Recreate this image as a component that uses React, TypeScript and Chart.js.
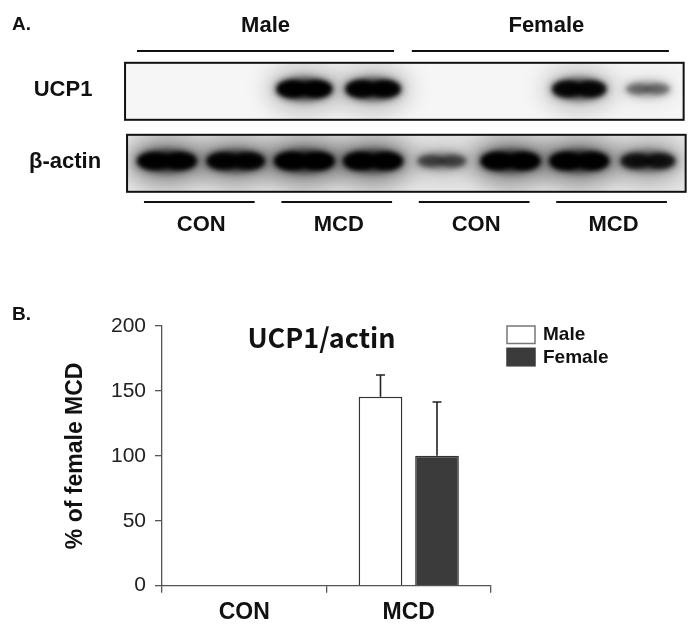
import React, { useEffect, useRef } from "react";
import { Chart, registerables } from "chart.js";
Chart.register(...registerables);

// ---------- Panel A: western blot ----------
const lanes = ["1", "2", "3", "4", "5", "6", "7", "8"];
const sexGroups = ["Male", "Female"];
const treatmentGroups = ["CON", "MCD", "CON", "MCD"];
const blotRows = ["UCP1", "β-actin"];
const ucp1Intensity = [0.0, 0.0, 0.95, 0.92, 0.0, 0.0, 0.85, 0.3];
const actinIntensity = [0.95, 0.9, 1.0, 0.97, 0.42, 0.97, 0.97, 0.72];

// ---------- Panel B: bar chart ----------
const categories = ["CON", "MCD"];
const maleValues = [0, 145.5];
const femaleValues = [0, 100];
const maleErrors = [0, 16.8];
const femaleErrors = [0, 41.5];
const yTicks = [0, 50, 100, 150, 200];
const chartTitle = "UCP1/actin";
const yAxisTitle = "% of female MCD";

const FONT = '"Liberation Sans", Arial, sans-serif';
const TITLE_FONT = '"Noto Sans CJK KR", "Noto Sans", sans-serif';

function ellipse(ctx: CanvasRenderingContext2D, x: number, y: number, rx: number, ry: number) {
  ctx.beginPath();
  ctx.ellipse(x, y, Math.max(rx, 0.1), Math.max(ry, 0.1), 0, 0, Math.PI * 2);
  ctx.fill();
}

function drawBand(ctx: CanvasRenderingContext2D, x: number, y: number, I: number, row: number) {
  if (I < 0.05) return;
  const w = (row === 0 ? 40 : 42) + (row === 0 ? 18 : 20) * I;
  const h = 9 + 11 * I;
  ctx.save();
  ctx.filter = "blur(11px)";
  ctx.fillStyle = `rgba(0,0,0,${(row === 0 ? 0.22 : 0.4) * I})`;
  ellipse(ctx, x, y, w * 0.66, h * 1.3);
  ctx.filter = "blur(4px)";
  ctx.fillStyle = `rgba(8,8,8,${Math.min(1, 0.2 + 0.85 * I)})`;
  ellipse(ctx, x, y, w / 2, h / 2 + 1);
  ctx.filter = "blur(2px)";
  ctx.fillStyle = `rgba(0,0,0,${Math.min(1, I)})`;
  ellipse(ctx, x - w * 0.22, y, w * 0.26, h * 0.44);
  ellipse(ctx, x + w * 0.22, y, w * 0.26, h * 0.44);
  ctx.restore();
}

const blotPlugin = {
  id: "blotPlugin",
  afterDatasetsDraw(chart: any) {
    const ctx: CanvasRenderingContext2D = chart.ctx;
    const xs = chart.scales.x;
    const ys = chart.scales.y;
    const lx = (v: number) => xs.getPixelForValue(v);
    const ly = (v: number) => ys.getPixelForValue(v);
    const unit = lx(2) - lx(1);
    const intensities = [ucp1Intensity, actinIntensity];
    const bgs = ["#f6f6f6", "#e9e9e9"];

    blotRows.forEach((label, r) => {
      const cy = ly(r + 1) + 2.3;
      const top = cy - 28.5;
      const bottom = cy + 28.5;
      const left = lx(1) - 0.61 * unit + r * 2;
      const right = lx(lanes.length) + 0.52 * unit + r * 2;
      ctx.save();
      ctx.fillStyle = bgs[r];
      ctx.fillRect(left, top, right - left, bottom - top);
      ctx.beginPath();
      ctx.rect(left, top, right - left, bottom - top);
      ctx.clip();
      const meta = chart.getDatasetMeta(r);
      meta.data.forEach((pt: any, i: number) => {
        drawBand(ctx, pt.x, pt.y, intensities[r][i], r);
      });
      ctx.restore();
      ctx.save();
      ctx.strokeStyle = "#111";
      ctx.lineWidth = 2;
      ctx.strokeRect(left, top, right - left, bottom - top);
      ctx.fillStyle = "#111";
      ctx.font = `bold 22px ${FONT}`;
      ctx.textAlign = "center";
      ctx.textBaseline = "middle";
      ctx.fillText(label, left - 62, ly(r + 1) + 1);
      ctx.restore();
    });

    ctx.save();
    ctx.fillStyle = "#111";
    ctx.strokeStyle = "#111";
    ctx.lineWidth = 2;
    ctx.textBaseline = "middle";
    ctx.font = `bold 19px ${FONT}`;
    ctx.textAlign = "left";
    ctx.fillText("A.", 12, 25);

    // sex headers
    ctx.font = `bold 22px ${FONT}`;
    ctx.textAlign = "center";
    sexGroups.forEach((g, k) => {
      const a = lx(k * 4 + 1) - 30;
      const b = lx(k * 4 + 4) + 21;
      const y = ly(1) - 38;
      ctx.beginPath();
      ctx.moveTo(a, y);
      ctx.lineTo(b, y);
      ctx.stroke();
      ctx.fillText(g, (a + b) / 2 + k * 6, ly(1) - 63);
    });
    // treatment labels
    treatmentGroups.forEach((g, k) => {
      const a = lx(k * 2 + 1) - 23;
      const b = lx(k * 2 + 2) + 19;
      const y = ly(2) + 41;
      ctx.beginPath();
      ctx.moveTo(a, y);
      ctx.lineTo(b, y);
      ctx.stroke();
      ctx.fillText(g, (a + b) / 2 + 2, ly(2) + 64);
    });
    ctx.restore();
  },
};

const barPlugin = {
  id: "barPlugin",
  afterDatasetsDraw(chart: any) {
    const ctx: CanvasRenderingContext2D = chart.ctx;
    const ys = chart.scales.y;
    const area = chart.chartArea;
    const errs = [maleErrors, femaleErrors];
    ctx.save();
    ctx.strokeStyle = "#222";
    ctx.lineWidth = 1.6;
    chart.data.datasets.forEach((ds: any, d: number) => {
      const meta = chart.getDatasetMeta(d);
      meta.data.forEach((bar: any, i: number) => {
        const e = errs[d][i];
        if (!e) return;
        const v = ds.data[i];
        const yTop = ys.getPixelForValue(v + e);
        ctx.beginPath();
        ctx.moveTo(bar.x, bar.y);
        ctx.lineTo(bar.x, yTop);
        ctx.moveTo(bar.x - 4.5, yTop);
        ctx.lineTo(bar.x + 4.5, yTop);
        ctx.stroke();
      });
    });
    ctx.restore();

    // title
    ctx.save();
    ctx.fillStyle = "#111";
    ctx.font = `bold 27px ${TITLE_FONT}`;
    ctx.textAlign = "center";
    ctx.textBaseline = "alphabetic";
    ctx.fillText(chartTitle, (area.left + area.right) / 2 - 5, area.top + 22);

    // "B." label
    ctx.font = `bold 19px ${FONT}`;
    ctx.textAlign = "left";
    ctx.textBaseline = "middle";
    ctx.fillText("B.", 12, area.top - 11);

    // legend
    const lx = area.right + 16;
    chart.data.datasets.forEach((ds: any, d: number) => {
      const top = area.top + d * 22.3;
      ctx.fillStyle = ds.backgroundColor;
      ctx.fillRect(lx, top, 28, 17.5);
      ctx.strokeStyle = d === 0 ? "#777" : "#3b3b3b";
      ctx.lineWidth = 1.5;
      ctx.strokeRect(lx, top, 28, 17.5);
      ctx.fillStyle = "#111";
      ctx.font = `bold 19px ${FONT}`;
      ctx.fillText(ds.label, lx + 36, top + 9);
    });
    ctx.restore();
  },
};

export default function App() {
  const blotRef = useRef<HTMLCanvasElement>(null);
  const barRef = useRef<HTMLCanvasElement>(null);

  useEffect(() => {
    const blot = new Chart(blotRef.current!, {
      type: "scatter",
      data: {
        datasets: blotRows.map((row, r) => ({
          label: row,
          data: lanes.map((_, i) => ({ x: i + 1, y: r + 1 })),
          pointRadius: 0,
        })),
      },
      options: {
        responsive: false,
        animation: false,
        devicePixelRatio: 1,
        events: [],
        layout: { padding: 0 },
        plugins: { legend: { display: false }, tooltip: { enabled: false } },
        scales: {
          x: { type: "linear", display: false, min: -1.43, max: 8.758 },
          y: { type: "linear", display: false, reverse: true, min: -0.236, max: 3.097 },
        },
      },
      plugins: [blotPlugin],
    } as any);

    const bar = new Chart(barRef.current!, {
      type: "bar",
      data: {
        labels: categories,
        datasets: [
          {
            label: "Male",
            data: maleValues,
            backgroundColor: "#ffffff",
            borderColor: "#333333",
            borderWidth: 1.5,
            categoryPercentage: 0.687,
            barPercentage: 0.773,
          },
          {
            label: "Female",
            data: femaleValues,
            backgroundColor: "#3b3b3b",
            borderColor: "#333333",
            borderWidth: 1.5,
            categoryPercentage: 0.687,
            barPercentage: 0.773,
          },
        ],
      },
      options: {
        responsive: false,
        animation: false,
        devicePixelRatio: 1,
        events: [],
        layout: { padding: { top: 86, right: 209, left: 0, bottom: 0 } },
        plugins: { legend: { display: false }, title: { display: false }, tooltip: { enabled: false } },
        scales: {
          x: {
            grid: { offset: true, drawOnChartArea: false, tickLength: 7, color: "#555", lineWidth: 1.3 },
            border: { color: "#555", width: 1.3 },
            ticks: { font: { family: FONT, size: 23, weight: "bold" }, color: "#111", padding: 6 },
            afterFit: (s: any) => {
              s.height = 43.3;
            },
          },
          y: {
            min: 0,
            max: 200,
            afterBuildTicks: (s: any) => {
              s.ticks = yTicks.map((v) => ({ value: v }));
            },
            ticks: { font: { family: FONT, size: 21 }, color: "#222", padding: 9 },
            grid: { drawOnChartArea: false, tickLength: 7, color: "#555", lineWidth: 1.3 },
            border: { color: "#555", width: 1.3 },
            title: {
              display: true,
              text: yAxisTitle,
              font: { family: FONT, size: 23, weight: "bold" },
              color: "#111",
              padding: { top: 62, bottom: 0 },
            },
            afterFit: (s: any) => {
              s.width = 162;
            },
          },
        },
      },
      plugins: [barPlugin],
    } as any);

    return () => {
      blot.destroy();
      bar.destroy();
    };
  }, []);

  return (
    <div style={{ position: "absolute", left: 0, top: 0, width: 700, height: 629, background: "#fff" }}>
      <canvas
        ref={blotRef}
        width={700}
        height={240}
        style={{ position: "absolute", left: 0, top: 0, width: 700, height: 240, display: "block" }}
      />
      <canvas
        ref={barRef}
        width={700}
        height={389}
        style={{ position: "absolute", left: 0, top: 240, width: 700, height: 389, display: "block" }}
      />
    </div>
  );
}
